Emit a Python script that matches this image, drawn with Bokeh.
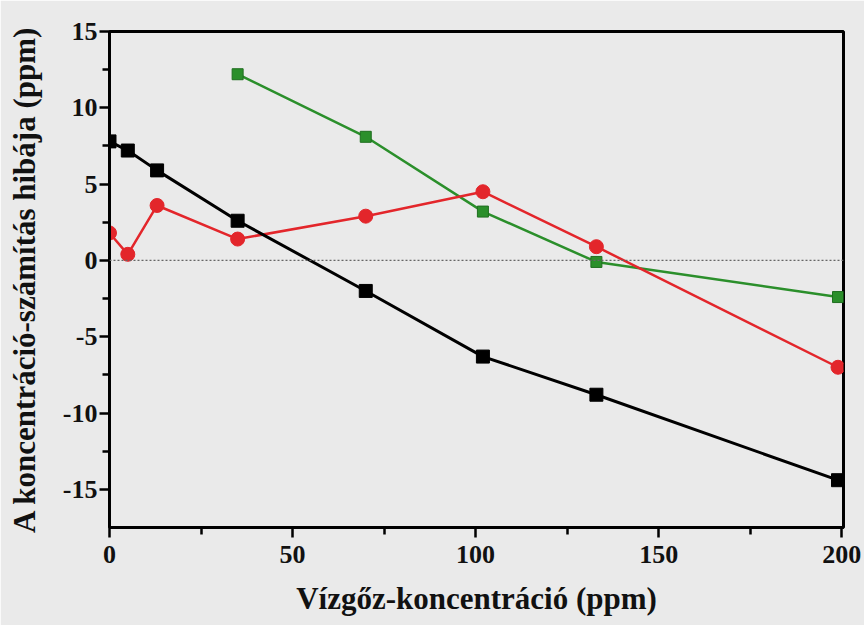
from bokeh.plotting import figure
from bokeh.models import FixedTicker, Range1d, Span
from bokeh.embed import file_html
from bokeh.resources import INLINE

# measured concentrations (ppm) and calculation error (ppm)
x_black = [0, 5, 13, 35, 70, 102, 133, 199]
y_black = [7.8, 7.2, 5.9, 2.6, -2.0, -6.3, -8.8, -14.4]

x_red = [0, 5, 13, 35, 70, 102, 133, 199]
y_red = [1.8, 0.4, 3.6, 1.4, 2.9, 4.5, 0.9, -7.0]

x_green = [35, 70, 102, 133, 199]
y_green = [12.2, 8.1, 3.2, -0.1, -2.4]

x_ticks = [0, 50, 100, 150, 200]
y_ticks = [-15, -10, -5, 0, 5, 10, 15]

BG = "#eaeaea"
FONT = "Liberation Serif"

p = figure(width=864, height=625, output_backend="svg", toolbar_location=None,
           x_range=Range1d(0, 200.5), y_range=Range1d(-17.5, 15),
           min_border_left=109, min_border_right=21,
           min_border_top=31, min_border_bottom=98)
p.background_fill_color = BG
p.border_fill_color = BG
p.outline_line_color = "black"
p.outline_line_width = 3
p.grid.visible = False

for ax in (p.xaxis[0], p.yaxis[0]):
    ax.axis_line_width = 3
    ax.major_tick_line_width = 2.5
    ax.minor_tick_line_width = 2.5
    ax.major_tick_in = 0
    ax.major_tick_out = 10
    ax.minor_tick_in = 0
    ax.minor_tick_out = 7
    ax.major_label_text_font = FONT
    ax.major_label_text_font_style = "bold"
    ax.major_label_text_font_size = "26px"
    ax.major_label_text_color = "#111111"
    ax.axis_label_text_font = FONT
    ax.axis_label_text_font_style = "bold"
    ax.axis_label_text_font_size = "31px"
    ax.axis_label_text_color = "#111111"

p.xaxis.ticker = FixedTicker(ticks=x_ticks, minor_ticks=[25, 75, 125, 175])
p.yaxis.ticker = FixedTicker(ticks=y_ticks, minor_ticks=[-12.5, -7.5, -2.5, 2.5, 7.5, 12.5])
p.yaxis.major_label_overrides = {t: str(t) for t in y_ticks}
p.xaxis.major_label_standoff = 8
p.yaxis.major_label_standoff = 2
p.xaxis.axis_label = "Vízgőz-koncentráció (ppm)"
p.yaxis.axis_label = "A koncentráció-számítás hibája (ppm)"
p.xaxis.axis_label_standoff = 15
p.yaxis.axis_label_standoff = 18

# zero reference line
p.add_layout(Span(location=0, dimension="width", line_color="#666666",
                  line_width=1.2, line_dash="2 2"))

# green series
p.line(x_green, y_green, line_color="#2b8f2b", line_width=2.5)
p.scatter(x_green, y_green, marker="square", size=11, fill_color="#2b8f2b",
          line_color="#1f6f1f", line_width=1)

# red series
p.line(x_red, y_red, line_color="#e3262b", line_width=2.5)
p.scatter(x_red, y_red, marker="circle", size=14, fill_color="#e3262b",
          line_color="#e3262b")

# black series
p.line(x_black, y_black, line_color="black", line_width=3)
p.scatter(x_black, y_black, marker="square", size=13, fill_color="black",
          line_color="black")

open("out.html", "w").write(file_html(p, INLINE))
